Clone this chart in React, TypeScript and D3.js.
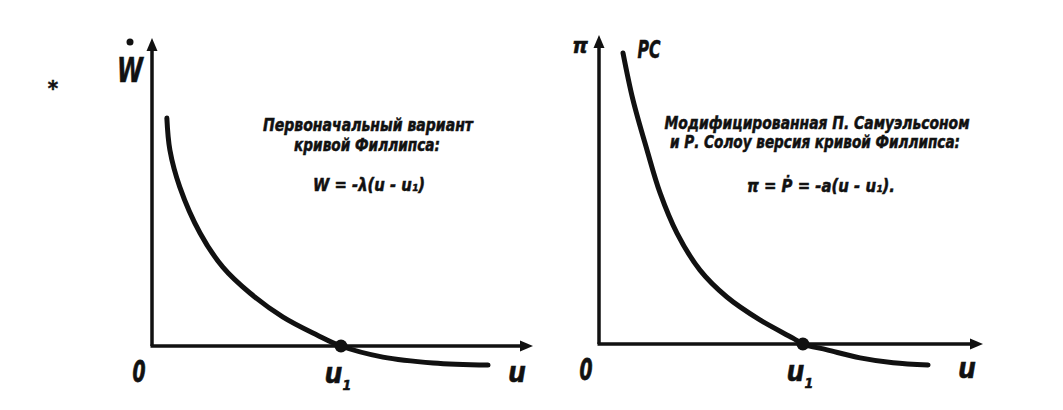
import React from "react";
import * as d3 from "d3";

// ---- data ----
// Left panel: original Phillips curve (wage growth vs unemployment)
const leftU = [3.9, 4.7, 7.3, 12.6, 18.6, 25.7, 34.4, 43.3, 49.6, 60.6, 73.8, 88.2];
const leftW = [74.0, 63.6, 51.6, 36.7, 25.6, 17.2, 9.4, 3.6, 0, -3.6, -5.5, -6.2];
const leftU1 = 49.6;

// Right panel: Samuelson–Solow modified curve (inflation vs unemployment)
const rightU = [6.25, 8.85, 12.5, 15.9, 20.3, 26.3, 33.3, 41.9, 50.5, 53.1, 59.4, 68.0, 76.6, 85.7];
const rightPi = [94.2, 79.0, 62.8, 48.9, 35.9, 23.9, 15.2, 7.8, 1.9, 0, -1.9, -4.5, -6.1, -6.8];
const rightU1 = 53.1;

const leftCaption = ["Первоначальный вариант", "кривой Филлипса:"];
const leftFormula = "W = -λ(u - u₁)";
const rightCaption = ["Модифицированная П. Самуэльсоном", "и Р. Солоу версия кривой Филлипса:"];
const rightFormula = "π = Ṗ = -a(u - u₁).";

const W = 1063;
const H = 410;
const FONT = "'Liberation Sans Narrow', 'DejaVu Sans Condensed', 'Liberation Sans', Arial, sans-serif";

const lab = {
  fontFamily: FONT,
  fontWeight: 700,
  fontStyle: "italic",
  fill: "#111",
  stroke: "#111",
  strokeWidth: 0.5,
} as const;

function Arrow({ x, y, dir }: { x: number; y: number; dir: "up" | "right" }) {
  const L = 13, hw = 5.5;
  const pts =
    dir === "up"
      ? [[x, y], [x - hw, y + L], [x + hw, y + L]]
      : [[x, y], [x - L, y - hw], [x - L, y + hw]];
  return <polygon points={pts.map((p) => p.join(",")).join(" ")} fill="#111" />;
}

function Panel({
  us, vs, u1, xr, yr, xLabel, xLabelDy,
}: {
  us: number[]; vs: number[]; u1: number; xr: [number, number]; yr: [number, number]; xLabel: string; xLabelDy: number;
}) {
  const x = d3.scaleLinear().domain([0, 100]).range(xr);
  const y = d3.scaleLinear().domain([0, 100]).range(yr);
  const pts: [number, number][] = us.map((u, i) => [u, vs[i]]);
  const line = d3
    .line<[number, number]>()
    .x((d) => x(d[0]))
    .y((d) => y(d[1]))
    .curve(d3.curveCatmullRom.alpha(0.5));
  const x0 = x(0), y0 = y(0);
  const yTop = y(100), xEnd = x(100);
  return (
    <g>
      <line x1={x0} y1={y0} x2={x0} y2={yTop + 8} stroke="#111" strokeWidth={3.5} />
      <line x1={x0 - 1.5} y1={y0} x2={xEnd - 8} y2={y0} stroke="#111" strokeWidth={3.5} />
      <Arrow x={x0} y={yTop} dir="up" />
      <Arrow x={xEnd} y={y0} dir="right" />
      <path d={line(pts) || ""} fill="none" stroke="#111" strokeWidth={5} strokeLinecap="round" />
      <circle cx={x(u1)} cy={y0} r={6.5} fill="#111" />
      <text x={x0 - 13} y={y0 + 36} textAnchor="middle" fontSize={31} textLength={13} lengthAdjust="spacingAndGlyphs" {...lab} strokeWidth={0.8}>0</text>
      <text x={x(u1) - 3} y={y0 + 37} textAnchor="middle" fontSize={28} {...lab}>
        u<tspan fontSize={14} dy={7}>1</tspan>
      </text>
      <text x={xEnd - 16} y={y0 + xLabelDy} textAnchor="middle" fontSize={28} {...lab}>{xLabel}</text>
    </g>
  );
}

export default function App() {
  return (
    <svg
      width={W}
      height={H}
      style={{ position: "absolute", left: 0, top: 0, background: "#fff" }}
    >
      <rect width={W} height={H} fill="#fff" />
      <text x={53} y={96} textAnchor="middle" fontSize={22} {...lab}>*</text>

      {/* Left panel */}
      <Panel us={leftU} vs={leftW} u1={leftU1} xr={[152, 533]} yr={[346, 38]} xLabel="u" xLabelDy={36} />
      <circle cx={130} cy={42} r={3.5} fill="#111" />
      <text x={130} y={82} textAnchor="middle" fontSize={33} textLength={26} lengthAdjust="spacingAndGlyphs" {...lab}>W</text>
      <text x={368} y={131} textAnchor="middle" fontSize={17} textLength={210} lengthAdjust="spacingAndGlyphs" {...lab}>
        {leftCaption[0]}
      </text>
      <text x={367} y={151} textAnchor="middle" fontSize={17} textLength={146} lengthAdjust="spacingAndGlyphs" {...lab}>
        {leftCaption[1]}
      </text>
      <text x={369} y={191} textAnchor="middle" fontSize={17} textLength={112} lengthAdjust="spacingAndGlyphs" {...lab}>
        {leftFormula}
      </text>

      {/* Right panel */}
      <Panel us={rightU} vs={rightPi} u1={rightU1} xr={[599, 983]} yr={[344, 35]} xLabel="u" xLabelDy={34} />
      <text x={580} y={53} textAnchor="middle" fontSize={22} {...lab}>π</text>
      <text x={649} y={58} textAnchor="middle" fontSize={24} textLength={23} lengthAdjust="spacingAndGlyphs" {...lab}>PC</text>
      <text x={817} y={129} textAnchor="middle" fontSize={17} textLength={305} lengthAdjust="spacingAndGlyphs" {...lab}>
        {rightCaption[0]}
      </text>
      <text x={815} y={148} textAnchor="middle" fontSize={17} textLength={290} lengthAdjust="spacingAndGlyphs" {...lab}>
        {rightCaption[1]}
      </text>
      <text x={821} y={192} textAnchor="middle" fontSize={17} textLength={148} lengthAdjust="spacingAndGlyphs" {...lab}>
        {rightFormula}
      </text>
    </svg>
  );
}
